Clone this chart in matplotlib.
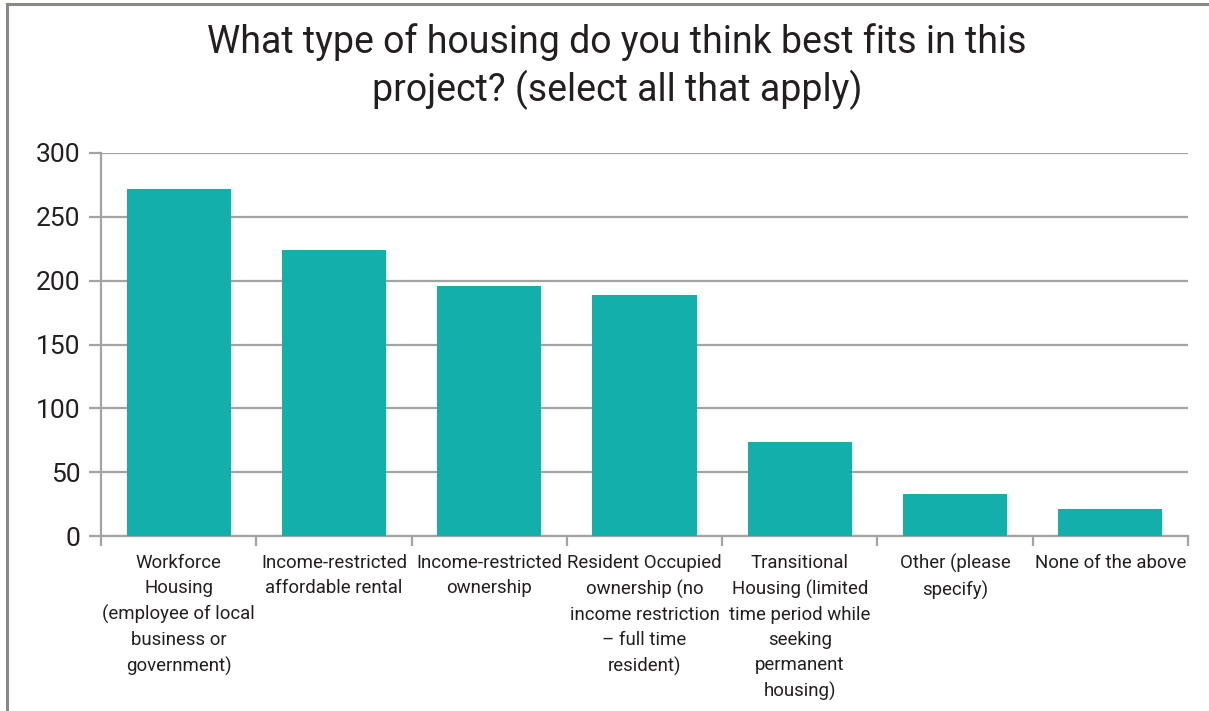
import matplotlib
matplotlib.use("Agg")
import matplotlib.pyplot as plt
from matplotlib.lines import Line2D
import numpy as np

categories = [
    "Workforce\nHousing\n(employee of local\nbusiness or\ngovernment)",
    "Income-restricted\naffordable rental",
    "Income-restricted\nownership",
    "Resident Occupied\nownership (no\nincome restriction\n\u2013 full time\nresident)",
    "Transitional\nHousing (limited\ntime period while\nseeking\npermanent\nhousing)",
    "Other (please\nspecify)",
    "None of the above",
]
responses = [272, 224, 196, 189, 74, 33, 21]
y_ticks = [0, 50, 100, 150, 200, 250, 300]

BAR_COLOR = "#13AFAB"
GRID_COLOR = "#A3A3A3"
TEXT_COLOR = "#231F20"

plt.rcParams.update({
    "font.family": ["Roboto", "DejaVu Sans"],
    "text.color": TEXT_COLOR,
    "xtick.color": GRID_COLOR,
    "ytick.color": GRID_COLOR,
    "xtick.labelcolor": TEXT_COLOR,
    "ytick.labelcolor": TEXT_COLOR,
})

W, H = 1209, 711
fig = plt.figure(figsize=(W / 100, H / 100), dpi=100)
ax = fig.add_axes([101 / W, 1 - 536 / H, (1188 - 101) / W, (536 - 153) / H])

x = np.arange(len(categories))
ax.bar(x, responses, width=0.67, color=BAR_COLOR, zorder=3)

ax.set_xlim(-0.5, len(categories) - 0.5)
ax.set_ylim(0, 300)
ax.set_yticks(y_ticks)
ax.tick_params(axis="y", labelsize=19, length=9, width=1.6, pad=6)
ax.yaxis.grid(True, color=GRID_COLOR, linewidth=1.6, zorder=0)
ax.set_axisbelow(True)

# category ticks sit on the boundaries, labels centred under each bar
ax.set_xticks(np.arange(len(categories) + 1) - 0.5)
ax.set_xticklabels([])
ax.tick_params(axis="x", length=7, width=1.6)
ax.set_xticks(x, minor=True)
ax.set_xticklabels(categories, minor=True, fontsize=13.4, linespacing=1.51,
                   ha="center", va="top")
ax.tick_params(axis="x", which="minor", length=0, pad=13)

for side in ("top", "right"):
    ax.spines[side].set_visible(False)
for side in ("left", "bottom"):
    ax.spines[side].set_color(GRID_COLOR)
    ax.spines[side].set_linewidth(1.6)

fig.text(617 / W, 1 - 42 / H, "What type of housing do you think best fits in this",
         ha="center", va="center", fontsize=27)
fig.text(617 / W, 1 - 90 / H, "project? (select all that apply)",
         ha="center", va="center", fontsize=27)

# outer frame, cut at the right and bottom edges
frame = "#8C8784"
fig.add_artist(Line2D([7 / W, 7 / W], [0, 1 - 4 / H], color=frame, linewidth=2.2,
                      transform=fig.transFigure))
fig.add_artist(Line2D([7 / W, 1], [1 - 4 / H, 1 - 4 / H], color=frame, linewidth=2.2,
                      transform=fig.transFigure))

fig.savefig("out.png", dpi=100)
